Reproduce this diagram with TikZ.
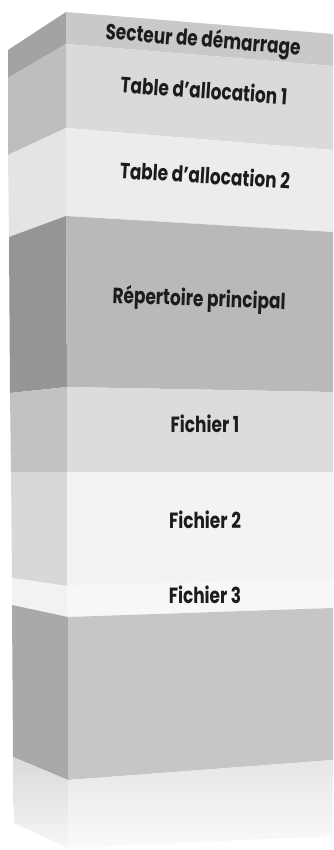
\documentclass[tikz,border=0pt]{standalone}
\usepackage{fontspec}
\setmainfont{Poppins}
\usepackage{graphicx}
\definecolor{txt}{HTML}{1C1C1C}
\tikzset{
  lbl/.style={text=txt, inner sep=0pt, font=\bfseries\fontsize{22}{26}\selectfont},
  face/.style={draw=none}
}
\newcommand{\sq}[1]{\scalebox{0.77}[1]{#1}}
\begin{document}
\begin{tikzpicture}[x=1pt,y=-1pt]
\useasboundingbox[fill=white] (0,0) rectangle (333,850);
% boundary coordinates: left edge (l), corner (c), right edge (r)
\coordinate (l0) at (8,50);   \coordinate (c0) at (66,12);  \coordinate (r0) at (333,34);
\coordinate (l1) at (8,78);   \coordinate (c1) at (66,44);  \coordinate (r1) at (333,66);
\coordinate (l2) at (8,155);  \coordinate (c2) at (66,128); \coordinate (r2) at (333,150);
\coordinate (l3) at (9,237);  \coordinate (c3) at (66,216); \coordinate (r3) at (333,232);
\coordinate (l4) at (10,393); \coordinate (c4) at (67,387); \coordinate (r4) at (333,392);
\coordinate (l5) at (11,472); \coordinate (c5) at (67,472); \coordinate (r5) at (333,472);
\coordinate (l6) at (12,578); \coordinate (c6) at (67,586); \coordinate (r6) at (333,579);
\coordinate (l7) at (12,605); \coordinate (c7) at (68,617); \coordinate (r7) at (333,608);
\coordinate (l8) at (13,757); \coordinate (c8) at (68,780); \coordinate (r8) at (333,760);
\coordinate (l9) at (14,823); \coordinate (c9) at (68,848); \coordinate (r9) at (332,836);
% left faces
\fill[face,fill={rgb,255:red,163;green,163;blue,163}] (l0)--(c0)--(c1)--(l1)--cycle;
\fill[face,fill={rgb,255:red,190;green,190;blue,190}] (l1)--(c1)--(c2)--(l2)--cycle;
\fill[face,fill={rgb,255:red,228;green,228;blue,228}] (l2)--(c2)--(c3)--(l3)--cycle;
\fill[face,fill={rgb,255:red,149;green,149;blue,149}] (l3)--(c3)--(c4)--(l4)--cycle;
\fill[face,fill={rgb,255:red,194;green,194;blue,194}] (l4)--(c4)--(c5)--(l5)--cycle;
\fill[face,fill={rgb,255:red,216;green,216;blue,216}] (l5)--(c5)--(c6)--(l6)--cycle;
\fill[face,fill={rgb,255:red,242;green,242;blue,242}] (l6)--(c6)--(c7)--(l7)--cycle;
\fill[face,fill={rgb,255:red,169;green,169;blue,169}] (l7)--(c7)--(c8)--(l8)--cycle;
\shade[face,top color={rgb,255:red,218;green,218;blue,218},bottom color={rgb,255:red,246;green,246;blue,246}] (l8)--(c8)--(c9)--(l9)--cycle;
% front faces
\fill[face,fill={rgb,255:red,201;green,201;blue,201}] (c0)--(r0)--(r1)--(c1)--cycle;
\fill[face,fill={rgb,255:red,218;green,218;blue,218}] (c1)--(r1)--(r2)--(c2)--cycle;
\fill[face,fill={rgb,255:red,236;green,236;blue,236}] (c2)--(r2)--(r3)--(c3)--cycle;
\fill[face,fill={rgb,255:red,185;green,185;blue,185}] (c3)--(r3)--(r4)--(c4)--cycle;
\fill[face,fill={rgb,255:red,220;green,220;blue,220}] (c4)--(r4)--(r5)--(c5)--cycle;
\fill[face,fill={rgb,255:red,243;green,243;blue,243}] (c5)--(r5)--(r6)--(c6)--cycle;
\fill[face,fill={rgb,255:red,247;green,247;blue,247}] (c6)--(r6)--(r7)--(c7)--cycle;
\fill[face,fill={rgb,255:red,198;green,198;blue,198}] (c7)--(r7)--(r8)--(c8)--cycle;
\shade[face,top color={rgb,255:red,230;green,230;blue,230},bottom color={rgb,255:red,250;green,250;blue,250}] (c8)--(r8)--(r9)--(c9)--cycle;
% labels
\node[lbl,rotate=-4.7] (secteur) at (203,41) {\sq{Secteur de démarrage}};
\node[lbl,rotate=-4]   (table1)  at (204,90) {\sq{Table d’allocation 1}};
\node[lbl,rotate=-3.5] (table2)  at (205,175) {\sq{Table d’allocation 2}};
\node[lbl,rotate=-2]   (rep)     at (199,300) {\sq{Répertoire principal}};
\node[lbl] (f1) at (205,424) {\sq{Fichier 1}};
\node[lbl] (f2) at (205,520) {\sq{Fichier 2}};
\node[lbl] (f3) at (205,595) {\sq{Fichier 3}};
\end{tikzpicture}
\end{document}
